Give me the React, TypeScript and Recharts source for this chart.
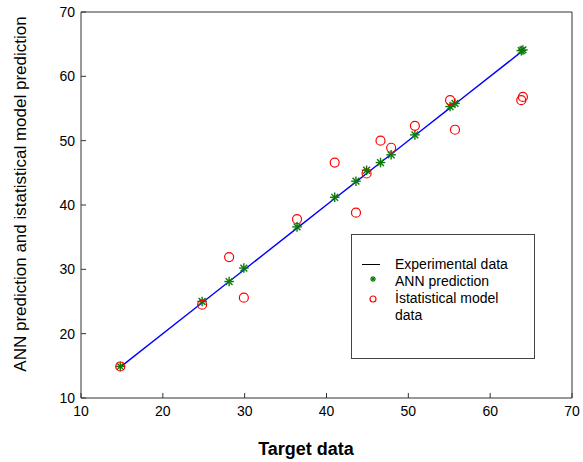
import React from "react";
import { ScatterChart, Scatter, XAxis, YAxis } from "recharts";

const targetData = [14.8, 24.8, 28.1, 29.9, 36.4, 41.0, 43.6, 44.9, 46.6, 47.9, 50.8, 55.1, 55.7, 63.8, 64.0];
const annPrediction = [14.9, 25.0, 28.1, 30.2, 36.6, 41.2, 43.7, 45.4, 46.6, 47.8, 50.9, 55.3, 55.8, 64.0, 64.1];
const statisticalModel = [14.9, 24.5, 31.9, 25.6, 37.8, 46.6, 38.8, 44.9, 50.0, 48.9, 52.3, 56.3, 51.7, 56.3, 56.8];
const axisTicks = [10, 20, 30, 40, 50, 60, 70];

const experimentalSeries = targetData.map((t) => ({ x: t, y: t }));
const annSeries = targetData.map((t, i) => ({ x: t, y: annPrediction[i] }));
const statSeries = targetData.map((t, i) => ({ x: t, y: statisticalModel[i] }));

const FONT = "'Liberation Sans', Arial, sans-serif";
const AXIS_COLOR = "#333333";

const StarShape = (props: any) => {
  const { cx, cy } = props;
  if (cx == null || cy == null) return <g />;
  const r = 4.8;
  const d = 3.4;
  return (
    <g stroke="#0a7a0a" strokeWidth={1.4}>
      <line x1={cx - r} y1={cy} x2={cx + r} y2={cy} />
      <line x1={cx} y1={cy - r} x2={cx} y2={cy + r} />
      <line x1={cx - d} y1={cy - d} x2={cx + d} y2={cy + d} />
      <line x1={cx - d} y1={cy + d} x2={cx + d} y2={cy - d} />
    </g>
  );
};

const CircleShape = (props: any) => {
  const { cx, cy } = props;
  if (cx == null || cy == null) return <g />;
  return <circle cx={cx} cy={cy} r={4.5} fill="none" stroke="#ff0000" strokeWidth={1.2} />;
};

const NoShape = () => <g />;

const LegendBox = () => (
  <div
    style={{
      position: "absolute",
      left: 351,
      top: 234,
      boxSizing: "border-box",
      width: 184,
      height: 125,
      border: "1.5px solid #444",
      background: "#fff",
      fontFamily: FONT,
      fontSize: 14,
      color: "#000",
      paddingTop: 21,
      lineHeight: "17px",
    }}
  >
    <div style={{ display: "flex", alignItems: "center" }}>
      <svg width={43} height={17} style={{ flex: "none" }}>
        <line x1={10} y1={8.5} x2={28} y2={8.5} stroke="#000" strokeWidth={1} />
      </svg>
      <span>Experimental data</span>
    </div>
    <div style={{ display: "flex", alignItems: "center" }}>
      <svg width={43} height={17} style={{ flex: "none" }}>
        <g stroke="#0a7a0a" strokeWidth={1.2}>
          <line x1={18} y1={6} x2={24} y2={6} />
          <line x1={21} y1={3} x2={21} y2={9} />
          <line x1={19} y1={4} x2={23} y2={8} />
          <line x1={19} y1={8} x2={23} y2={4} />
        </g>
      </svg>
      <span>ANN prediction</span>
    </div>
    <div style={{ display: "flex", alignItems: "flex-start" }}>
      <svg width={43} height={17} style={{ flex: "none" }}>
        <circle cx={21} cy={9} r={3} fill="none" stroke="#ff0000" strokeWidth={1.2} />
      </svg>
      <span>
        İstatistical model
        <br />
        data
      </span>
    </div>
  </div>
);

export default function App() {
  return (
    <div style={{ position: "absolute", left: 0, top: 0, width: 583, height: 462, background: "#fff" }}>
      <ScatterChart
        width={583}
        height={462}
        margin={{ top: 11, right: 10, bottom: 34, left: 41 }}
      >
        <XAxis
          type="number"
          dataKey="x"
          domain={[10, 70]}
          ticks={axisTicks}
          interval={0}
          allowDataOverflow
          height={30}
          tickSize={-5}
          tickMargin={13}
          stroke={AXIS_COLOR}
          tick={{ fill: "#000", fontSize: 14, fontFamily: FONT }}
        />
        <XAxis
          xAxisId="top"
          orientation="top"
          type="number"
          dataKey="x"
          domain={[10, 70]}
          ticks={axisTicks}
          interval={0}
          allowDataOverflow
          height={1}
          tickSize={-5}
          stroke={AXIS_COLOR}
          tick={false}
        />
        <YAxis
          type="number"
          dataKey="y"
          domain={[10, 70]}
          ticks={axisTicks}
          interval={0}
          allowDataOverflow
          width={40}
          tickSize={-5}
          tickMargin={11}
          stroke={AXIS_COLOR}
          tick={{ fill: "#000", fontSize: 14, fontFamily: FONT }}
        />
        <YAxis
          yAxisId="right"
          orientation="right"
          type="number"
          dataKey="y"
          domain={[10, 70]}
          ticks={axisTicks}
          interval={0}
          allowDataOverflow
          width={1}
          tickSize={-5}
          stroke={AXIS_COLOR}
          tick={false}
        />
        <Scatter
          name="Experimental data"
          xAxisId="top"
          yAxisId="right"
          data={experimentalSeries}
          line={{ stroke: "#0000ff", strokeWidth: 1.4 }}
          lineType="joint"
          shape={NoShape}
          isAnimationActive={false}
        />
        <Scatter name="ANN prediction" data={annSeries} shape={StarShape} isAnimationActive={false} />
        <Scatter name="İstatistical model data" data={statSeries} shape={CircleShape} isAnimationActive={false} />
      </ScatterChart>
      <LegendBox />
      <div
        style={{
          position: "absolute",
          left: 306,
          top: 449,
          transform: "translate(-50%, -50%)",
          fontFamily: FONT,
          fontWeight: "bold",
          fontSize: 18,
          whiteSpace: "nowrap",
          color: "#000",
        }}
      >
        Target data
      </div>
      <div
        style={{
          position: "absolute",
          left: 21,
          top: 194,
          transform: "translate(-50%, -50%) rotate(-90deg)",
          fontFamily: FONT,
          fontSize: 17,
          whiteSpace: "nowrap",
          color: "#000",
        }}
      >
        ANN prediction and istatistical model prediction
      </div>
    </div>
  );
}
